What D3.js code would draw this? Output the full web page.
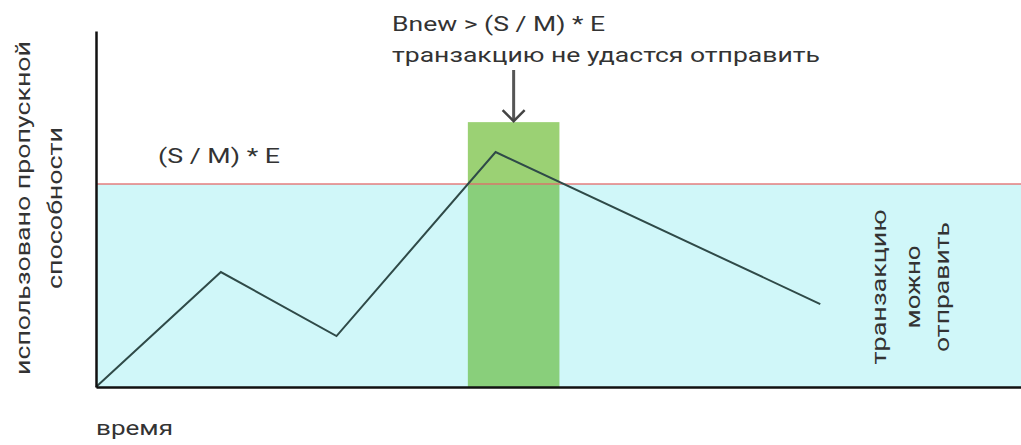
<!DOCTYPE html>
<html>
<head>
<meta charset="utf-8">
<script src="https://cdn.jsdelivr.net/npm/d3@7/dist/d3.min.js"></script>
<style>
  body { margin: 0; background: #fff; }
  svg { display: block; }
  text { font-family: Roboto, sans-serif; fill: #333; }
</style>
</head>
<body>
<div id="graf"></div>
<script>
// Пропускная способность: схема

// точки линии (время, использовано)
tiempos = [0, 13.5, 26, 43.2, 78.3]
usado   = [0, 32.3, 14.3, 66, 23.3]

// порог (S / M) * E
umbral = 57

// блок Bnew
bloqueX   = [40.2, 50.1]
bloqueTop = 74.4

// подписи
etiquetaUmbral = '(S / M) * E'
notaBloque     = ['Bnew > (S / M) * E', 'транзакцию не удастся отправить']
etiquetaY      = ['использовано пропускной', 'способности']
etiquetaX      = 'время'
notaZona       = ['транзакцию', 'можно', 'отправить']

ancho_total = 1021
alto_total  = 445

margins = { top: 31, left: 96, right: 0, bottom: 58 }
ancho = ancho_total - margins.left - margins.right
alto  = alto_total - margins.top - margins.bottom

svg = d3.select('#graf').append('svg')
  .attr('width', ancho_total)
  .attr('height', alto_total)

g = svg.append('g')
  .attr('transform', `translate(${margins.left}, ${margins.top})`)

x = d3.scaleLinear().domain([0, 100]).range([0, ancho])
y = d3.scaleLinear().domain([0, 100]).range([alto, 0])

// зона под порогом
g.append('rect')
  .attr('x', 0)
  .attr('y', y(umbral))
  .attr('width', ancho)
  .attr('height', y(0) - y(umbral))
  .attr('fill', '#d0f7f9')

// блок: верх и низ
g.append('rect')
  .attr('x', x(bloqueX[0]))
  .attr('y', y(bloqueTop))
  .attr('width', x(bloqueX[1]) - x(bloqueX[0]))
  .attr('height', y(umbral) - y(bloqueTop))
  .attr('fill', '#9bd174')
g.append('rect')
  .attr('x', x(bloqueX[0]))
  .attr('y', y(umbral))
  .attr('width', x(bloqueX[1]) - x(bloqueX[0]))
  .attr('height', y(0) - y(umbral))
  .attr('fill', '#89cf7b')

// линия порога
g.append('line')
  .attr('x1', 0)
  .attr('x2', ancho)
  .attr('y1', y(umbral))
  .attr('y2', y(umbral))
  .attr('stroke', '#e06666')
  .attr('stroke-opacity', 0.85)
  .attr('stroke-width', 1.5)

// линия использования
puntos = tiempos.map((t, i) => [t, usado[i]])
linea = d3.line().x(d => x(d[0])).y(d => y(d[1]))
g.append('path')
  .datum(puntos)
  .attr('d', linea)
  .attr('fill', 'none')
  .attr('stroke', '#2f4a48')
  .attr('stroke-width', 2)
  .attr('stroke-linejoin', 'miter')

// оси
xAxis = d3.axisBottom(x).ticks(0).tickSize(0).tickFormat('')
yAxis = d3.axisLeft(y).ticks(0).tickSize(0).tickFormat('')
g.append('g')
  .attr('transform', `translate(0,${alto})`)
  .call(xAxis)
  .select('.domain').attr('stroke', '#111').attr('stroke-width', 2.5)
g.append('g')
  .call(yAxis)
  .select('.domain').attr('stroke', '#111').attr('stroke-width', 2.5)

// стрелка
medio = (bloqueX[0] + bloqueX[1]) / 2
g.append('line')
  .attr('x1', x(medio))
  .attr('x2', x(medio))
  .attr('y1', 70 - margins.top)
  .attr('y2', y(bloqueTop) - 2)
  .attr('stroke', '#555')
  .attr('stroke-width', 3)
g.append('path')
  .attr('d', `M${x(medio) - 11},${y(bloqueTop) - 12} L${x(medio)},${y(bloqueTop) - 1} L${x(medio) + 11},${y(bloqueTop) - 12}`)
  .attr('fill', 'none')
  .attr('stroke', '#444')
  .attr('stroke-width', 2.5)

// подписи
function texto(sel, str, w) {
  return sel.append('text')
    .attr('font-size', '20px')
    .attr('textLength', w)
    .attr('lengthAdjust', 'spacingAndGlyphs')
    .text(str)
}

texto(svg, etiquetaUmbral, 122).attr('x', 158).attr('y', 163)
texto(svg, notaBloque[0], 213).attr('x', 392).attr('y', 31)
texto(svg, notaBloque[1], 428).attr('x', 392).attr('y', 62)
texto(svg, etiquetaX, 77).attr('x', 96).attr('y', 435)

// вертикальные подписи
largosY = [334, 162]
basesY  = [30, 62]
etiquetaY.forEach((d, i) => {
  texto(svg, d, largosY[i])
    .attr('text-anchor', 'middle')
    .attr('transform', `translate(${basesY[i]}, 208) rotate(-90)`)
})

largosZ = [155, 83, 130]
basesZ  = [886, 920, 949]
notaZona.forEach((d, i) => {
  texto(svg, d, largosZ[i])
    .attr('text-anchor', 'middle')
    .attr('transform', `translate(${basesZ[i]}, 287) rotate(-90)`)
})
</script>
</body>
</html>
